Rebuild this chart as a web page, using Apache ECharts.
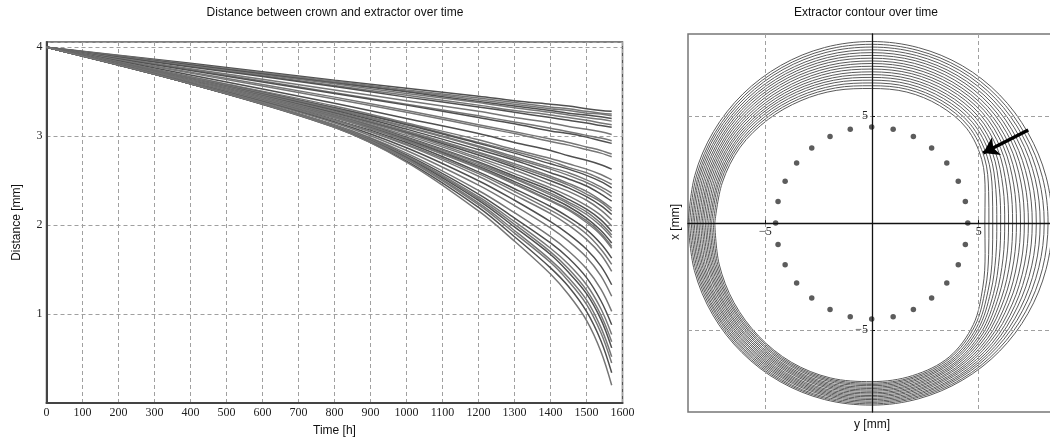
<!DOCTYPE html>
<html>
<head>
<meta charset="utf-8">
<script src="https://cdn.jsdelivr.net/npm/echarts@6/dist/echarts.min.js"></script>
<style>
html, body { margin: 0; padding: 0; background: #fff; }
#chart { width: 1050px; height: 438px; }
</style>
</head>
<body>
<div id="chart"></div>
<script>
// left panel: distance curves, sampled at these times [h]
var times = [0, 400, 800, 1000, 1200, 1300, 1400, 1450, 1500, 1540, 1570];

// one row per curve, values in mm at the times above
var distances = [
    [4, 3.82, 3.63, 3.54, 3.45, 3.40, 3.36, 3.34, 3.31, 3.29, 3.28],
    [4, 3.81, 3.62, 3.52, 3.43, 3.38, 3.33, 3.31, 3.28, 3.26, 3.25],
    [4, 3.80, 3.61, 3.51, 3.41, 3.36, 3.31, 3.29, 3.26, 3.25, 3.23],
    [4, 3.80, 3.60, 3.50, 3.39, 3.34, 3.29, 3.26, 3.24, 3.22, 3.20],
    [4, 3.79, 3.59, 3.48, 3.38, 3.32, 3.27, 3.24, 3.21, 3.19, 3.17],
    [4, 3.79, 3.57, 3.46, 3.35, 3.29, 3.24, 3.21, 3.18, 3.15, 3.13],
    [4, 3.78, 3.56, 3.44, 3.33, 3.27, 3.21, 3.18, 3.15, 3.12, 3.10],
    [4, 3.76, 3.52, 3.40, 3.28, 3.21, 3.15, 3.11, 3.08, 3.05, 3.02],
    [4, 3.75, 3.49, 3.36, 3.23, 3.16, 3.09, 3.05, 3.01, 2.98, 2.95],
    [4, 3.74, 3.48, 3.35, 3.21, 3.14, 3.06, 3.03, 2.99, 2.95, 2.92],
    [4, 3.72, 3.44, 3.29, 3.13, 3.05, 2.97, 2.93, 2.88, 2.84, 2.80],
    [4, 3.71, 3.42, 3.27, 3.11, 3.03, 2.94, 2.90, 2.85, 2.81, 2.77],
    [4, 3.69, 3.37, 3.20, 3.03, 2.93, 2.84, 2.78, 2.73, 2.68, 2.63],
    [4, 3.67, 3.34, 3.15, 2.96, 2.85, 2.75, 2.69, 2.63, 2.57, 2.51],
    [4, 3.67, 3.32, 3.14, 2.93, 2.83, 2.72, 2.65, 2.59, 2.52, 2.46],
    [4, 3.66, 3.32, 3.13, 2.92, 2.81, 2.69, 2.63, 2.56, 2.49, 2.42],
    [4, 3.66, 3.31, 3.11, 2.89, 2.77, 2.65, 2.59, 2.51, 2.43, 2.36],
    [4, 3.66, 3.30, 3.10, 2.88, 2.75, 2.63, 2.56, 2.48, 2.40, 2.32],
    [4, 3.65, 3.29, 3.08, 2.85, 2.73, 2.59, 2.52, 2.44, 2.35, 2.27],
    [4, 3.65, 3.28, 3.06, 2.82, 2.69, 2.55, 2.47, 2.38, 2.28, 2.19],
    [4, 3.64, 3.27, 3.05, 2.81, 2.67, 2.53, 2.45, 2.35, 2.26, 2.16],
    [4, 3.64, 3.26, 3.04, 2.79, 2.65, 2.50, 2.42, 2.32, 2.22, 2.12],
    [4, 3.64, 3.25, 3.03, 2.76, 2.62, 2.46, 2.38, 2.28, 2.17, 2.06],
    [4, 3.63, 3.24, 3.01, 2.74, 2.58, 2.42, 2.33, 2.22, 2.11, 1.99],
    [4, 3.63, 3.23, 2.99, 2.71, 2.55, 2.39, 2.29, 2.18, 2.06, 1.93],
    [4, 3.63, 3.23, 2.98, 2.70, 2.53, 2.36, 2.26, 2.15, 2.02, 1.89],
    [4, 3.62, 3.22, 2.97, 2.68, 2.52, 2.34, 2.24, 2.12, 1.99, 1.86],
    [4, 3.62, 3.21, 2.96, 2.66, 2.49, 2.31, 2.21, 2.08, 1.94, 1.80],
    [4, 3.62, 3.21, 2.95, 2.65, 2.47, 2.28, 2.18, 2.05, 1.91, 1.76],
    [4, 3.62, 3.21, 2.95, 2.64, 2.46, 2.27, 2.17, 2.03, 1.89, 1.74],
    [4, 3.61, 3.19, 2.93, 2.60, 2.41, 2.21, 2.09, 1.95, 1.79, 1.63],
    [4, 3.61, 3.18, 2.91, 2.58, 2.38, 2.17, 2.05, 1.90, 1.73, 1.56],
    [4, 3.61, 3.18, 2.90, 2.55, 2.34, 2.13, 2.00, 1.84, 1.67, 1.48],
    [4, 3.60, 3.16, 2.87, 2.50, 2.28, 2.04, 1.90, 1.73, 1.54, 1.33],
    [4, 3.60, 3.15, 2.84, 2.45, 2.22, 1.97, 1.82, 1.64, 1.43, 1.20],
    [4, 3.59, 3.13, 2.81, 2.39, 2.14, 1.87, 1.71, 1.51, 1.28, 1.03],
    [4, 3.59, 3.12, 2.79, 2.35, 2.08, 1.80, 1.63, 1.41, 1.15, 0.88],
    [4, 3.59, 3.12, 2.78, 2.32, 2.04, 1.74, 1.56, 1.33, 1.06, 0.77],
    [4, 3.59, 3.12, 2.77, 2.30, 2.01, 1.70, 1.51, 1.27, 0.99, 0.69],
    [4, 3.59, 3.11, 2.76, 2.28, 1.98, 1.67, 1.47, 1.23, 0.94, 0.62],
    [4, 3.59, 3.11, 2.75, 2.25, 1.94, 1.61, 1.41, 1.16, 0.85, 0.52],
    [4, 3.59, 3.11, 2.74, 2.23, 1.91, 1.58, 1.37, 1.11, 0.79, 0.45],
    [4, 3.59, 3.10, 2.72, 2.20, 1.87, 1.52, 1.31, 1.03, 0.70, 0.34],
    [4, 3.59, 3.10, 2.71, 2.16, 1.82, 1.45, 1.22, 0.93, 0.58, 0.20]
];

// right panel: contour radius [mm] at these angles (deg, counter-clockwise from +y)
var contourAngles = [180, 195, 210, 225, 240, 255, 270, 285, 300, 315, 330, 345,
    0, 15, 30, 45, 60, 75, 90, 105, 120, 135, 150, 165];

var contours = [
    [8.60, 8.60, 8.60, 8.59, 8.58, 8.56, 8.53, 8.52, 8.50, 8.48, 8.46, 8.45, 8.45, 8.45, 8.45, 8.48, 8.50, 8.50, 8.50, 8.51, 8.52, 8.54, 8.56, 8.58],
    [8.53, 8.53, 8.53, 8.53, 8.52, 8.50, 8.47, 8.45, 8.43, 8.38, 8.32, 8.28, 8.26, 8.28, 8.30, 8.35, 8.37, 8.37, 8.37, 8.39, 8.41, 8.44, 8.47, 8.50],
    [8.45, 8.46, 8.46, 8.46, 8.46, 8.44, 8.40, 8.39, 8.35, 8.27, 8.17, 8.10, 8.08, 8.10, 8.16, 8.22, 8.25, 8.25, 8.24, 8.27, 8.30, 8.34, 8.39, 8.42],
    [8.38, 8.39, 8.40, 8.40, 8.39, 8.37, 8.34, 8.32, 8.28, 8.17, 8.03, 7.93, 7.89, 7.93, 8.01, 8.09, 8.12, 8.12, 8.11, 8.14, 8.18, 8.24, 8.30, 8.35],
    [8.31, 8.32, 8.33, 8.33, 8.33, 8.31, 8.27, 8.26, 8.21, 8.07, 7.88, 7.76, 7.71, 7.76, 7.86, 7.96, 7.99, 7.99, 7.98, 8.02, 8.07, 8.14, 8.22, 8.27],
    [8.23, 8.25, 8.26, 8.27, 8.27, 8.25, 8.21, 8.19, 8.13, 7.97, 7.74, 7.58, 7.52, 7.58, 7.71, 7.83, 7.87, 7.87, 7.85, 7.90, 7.96, 8.05, 8.13, 8.19],
    [8.16, 8.18, 8.19, 8.20, 8.21, 8.19, 8.14, 8.12, 8.06, 7.86, 7.60, 7.41, 7.34, 7.41, 7.57, 7.70, 7.74, 7.74, 7.72, 7.78, 7.85, 7.95, 8.05, 8.11],
    [8.09, 8.11, 8.13, 8.14, 8.15, 8.13, 8.08, 8.06, 7.99, 7.76, 7.45, 7.24, 7.15, 7.24, 7.42, 7.57, 7.61, 7.61, 7.59, 7.65, 7.74, 7.85, 7.96, 8.03],
    [8.01, 8.04, 8.06, 8.07, 8.09, 8.07, 8.01, 7.99, 7.91, 7.66, 7.31, 7.06, 6.97, 7.06, 7.27, 7.45, 7.49, 7.49, 7.47, 7.53, 7.63, 7.75, 7.88, 7.95],
    [7.94, 7.96, 7.99, 8.01, 8.02, 8.00, 7.95, 7.93, 7.84, 7.55, 7.16, 6.89, 6.78, 6.89, 7.13, 7.32, 7.36, 7.36, 7.34, 7.41, 7.51, 7.65, 7.79, 7.88],
    [7.87, 7.89, 7.92, 7.94, 7.96, 7.94, 7.88, 7.86, 7.76, 7.45, 7.02, 6.72, 6.60, 6.72, 6.98, 7.19, 7.24, 7.24, 7.21, 7.29, 7.40, 7.55, 7.71, 7.80],
    [7.79, 7.82, 7.86, 7.88, 7.90, 7.88, 7.82, 7.80, 7.69, 7.35, 6.87, 6.54, 6.41, 6.54, 6.83, 7.06, 7.11, 7.11, 7.08, 7.16, 7.29, 7.45, 7.62, 7.72],
    [7.72, 7.75, 7.79, 7.81, 7.84, 7.82, 7.75, 7.73, 7.62, 7.25, 6.73, 6.37, 6.23, 6.37, 6.68, 6.93, 6.98, 6.98, 6.95, 7.04, 7.18, 7.35, 7.54, 7.64],
    [7.64, 7.68, 7.72, 7.75, 7.78, 7.76, 7.69, 7.66, 7.54, 7.14, 6.59, 6.19, 6.04, 6.19, 6.54, 6.80, 6.86, 6.86, 6.82, 6.92, 7.07, 7.26, 7.45, 7.56],
    [7.57, 7.61, 7.65, 7.68, 7.71, 7.69, 7.62, 7.60, 7.47, 7.04, 6.44, 6.02, 5.86, 6.02, 6.39, 6.67, 6.73, 6.73, 6.69, 6.80, 6.96, 7.16, 7.37, 7.48],
    [7.50, 7.54, 7.59, 7.62, 7.65, 7.63, 7.56, 7.53, 7.40, 6.94, 6.30, 5.85, 5.67, 5.85, 6.24, 6.54, 6.60, 6.60, 6.56, 6.67, 6.84, 7.06, 7.28, 7.41],
    [7.42, 7.47, 7.52, 7.55, 7.59, 7.57, 7.50, 7.47, 7.32, 6.83, 6.15, 5.67, 5.49, 5.67, 6.10, 6.41, 6.48, 6.48, 6.43, 6.55, 6.73, 6.96, 7.20, 7.33],
    [7.35, 7.40, 7.45, 7.49, 7.53, 7.51, 7.43, 7.40, 7.25, 6.73, 6.01, 5.50, 5.30, 5.50, 5.95, 6.28, 6.35, 6.35, 6.30, 6.43, 6.62, 6.86, 7.11, 7.25]
];

// pin circle (dots)
var pinAngles = [0, 12.9, 25.7, 38.6, 51.4, 64.3, 77.1, 90, 102.9, 115.7, 128.6, 141.4, 154.3, 167.1,
    180, 192.9, 205.7, 218.6, 231.4, 244.3, 257.1, 270, 282.9, 295.7, 308.6, 321.4, 334.3, 347.1];
var pinRadii = [4.5, 4.5, 4.5, 4.5, 4.5, 4.5, 4.5, 4.5, 4.5, 4.5, 4.5, 4.5, 4.5, 4.5,
    4.5, 4.5, 4.5, 4.5, 4.5, 4.5, 4.5, 4.5, 4.5, 4.5, 4.5, 4.5, 4.5, 4.5];

// arrow annotation [y, x] in mm: tail, head
var arrowTail = [7.32, 4.36];
var arrowHead = [5.21, 3.28];
var contourTicks = [-5, 5];

var chart = echarts.init(document.getElementById('chart'), null, { renderer: 'canvas' });

var serif = '"Liberation Serif", "DejaVu Serif", serif';
var sans = '"Liberation Sans", Arial, sans-serif';
var dashed = { color: '#a0a0a0', type: [4, 3], width: 1 };

function minus(v) { return v < 0 ? '\u2212' + Math.abs(v) : String(v); }

var series = [];

distances.forEach(function (row, i) {
    series.push({
        type: 'line',
        xAxisIndex: 0,
        yAxisIndex: 0,
        data: times.map(function (t, j) { return [t, row[j]]; }),
        smooth: 0.35,
        symbol: 'none',
        silent: true,
        lineStyle: { color: i % 3 === 0 ? '#505050' : '#767676', width: 1.5 }
    });
});

// 0.34 keeps 15-degree bezier pieces close to circular arcs
contours.forEach(function (radii) {
    var pts = contourAngles.map(function (a, j) { return [radii[j], a]; });
    pts.push(pts[0]);
    series.push({
        type: 'line',
        coordinateSystem: 'polar',
        polarIndex: 0,
        data: pts,
        smooth: 0.34,
        symbol: 'none',
        silent: true,
        lineStyle: { color: '#5a5a5a', width: 1 }
    });
});

series.push({
    type: 'scatter',
    coordinateSystem: 'polar',
    polarIndex: 0,
    data: pinAngles.map(function (a, j) { return [pinRadii[j], a]; }),
    symbol: 'circle',
    symbolSize: 5.5,
    silent: true,
    itemStyle: { color: '#333' }
});

series.push({
    type: 'lines',
    coordinateSystem: 'cartesian2d',
    xAxisIndex: 1,
    yAxisIndex: 1,
    symbol: ['none', 'arrow'],
    symbolSize: 15,
    silent: true,
    z: 10,
    lineStyle: { color: '#000', width: 3.5, opacity: 1, curveness: 0 },
    data: [{ coords: [arrowTail, arrowHead] }]
});

var centered = { textAlign: 'center', align: 'center', textVerticalAlign: 'middle', verticalAlign: 'middle', fill: '#111', font: '12px ' + sans };

var option = {
    animation: false,
    backgroundColor: '#fff',
    textStyle: { fontFamily: sans },
    graphic: [
        { type: 'text', x: 335, y: 13, style: Object.assign({ text: 'Distance between crown and extractor over time' }, centered) },
        { type: 'text', x: 866, y: 13, style: Object.assign({ text: 'Extractor contour over time' }, centered) },
        { type: 'text', x: 872, y: 425, style: Object.assign({ text: 'y [mm]' }, centered) },
        { type: 'text', x: 676, y: 222, rotation: Math.PI / 2, style: Object.assign({ text: 'x [mm]' }, centered) }
    ],
    grid: [
        { left: 46.5, top: 42, width: 576, height: 361, show: true, borderColor: '#555', borderWidth: 1.5,
            backgroundColor: 'transparent', containLabel: false, outerBoundsMode: 'none' },
        { left: 688, top: 34, width: 368, height: 378, show: true, borderColor: '#777', borderWidth: 1.5,
            backgroundColor: 'transparent', containLabel: false, outerBoundsMode: 'none' }
    ],
    xAxis: [
        {
            type: 'value', gridIndex: 0, min: 0, max: 1600, interval: 100,
            name: 'Time [h]', nameLocation: 'middle', nameGap: 22,
            nameTextStyle: { fontFamily: sans, fontSize: 12, color: '#111' },
            axisLine: { lineStyle: { color: '#444', width: 2 } },
            axisTick: { show: false },
            axisLabel: { fontFamily: serif, fontSize: 12, color: '#222', margin: 4,
                formatter: function (v) { return String(v); } },
            splitLine: { show: true, lineStyle: dashed }
        },
        {
            type: 'value', gridIndex: 1, min: -8.62, max: 8.62, z: 5,
            position: 'bottom', offset: -188.9,
            axisLine: { onZero: false, lineStyle: { color: '#111', width: 1.3 } },
            axisTick: { show: true, customValues: contourTicks, length: 3, inside: true, lineStyle: { color: '#111' } },
            axisLabel: { customValues: contourTicks, fontFamily: serif, fontSize: 12, color: '#222', margin: 3, formatter: minus },
            splitLine: { show: true, lineStyle: dashed }
        }
    ],
    yAxis: [
        {
            type: 'value', gridIndex: 0, min: 0, max: 4.06, interval: 1,
            name: 'Distance [mm]', nameLocation: 'middle', nameGap: 24,
            nameTextStyle: { fontFamily: sans, fontSize: 12, color: '#111' },
            axisLine: { lineStyle: { color: '#444', width: 2 } },
            axisTick: { show: false },
            axisLabel: { fontFamily: serif, fontSize: 12, color: '#222', margin: 4,
                formatter: function (v) { return (v > 0 && Math.round(v) === v) ? String(v) : ''; } },
            splitLine: { show: true, lineStyle: dashed }
        },
        {
            type: 'value', gridIndex: 1, min: -8.84, max: 8.85, z: 5,
            position: 'left', offset: -184,
            axisLine: { onZero: false, lineStyle: { color: '#111', width: 1.3 } },
            axisTick: { show: true, customValues: contourTicks, length: 3, inside: true, lineStyle: { color: '#111' } },
            axisLabel: { customValues: contourTicks, fontFamily: serif, fontSize: 12, color: '#222', margin: 4, formatter: minus },
            splitLine: { show: true, lineStyle: dashed }
        }
    ],
    polar: { center: [871.7, 223], radius: 213.5 },
    angleAxis: { type: 'value', min: 0, max: 360, startAngle: 0, clockwise: false, show: false },
    radiusAxis: { type: 'value', min: 0, max: 10, show: false },
    series: series
};

chart.setOption(option);
</script>
</body>
</html>
